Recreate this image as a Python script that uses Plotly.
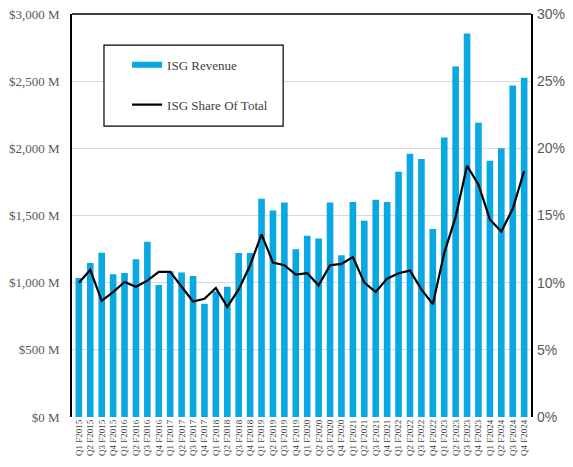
import plotly.graph_objects as go

# -------------------------------
# Data
# -------------------------------
quarters = [
    f"Q{q} F{y}" for y in range(2015, 2025) for q in range(1, 5)
]

isg_revenue = [  # $M
    1035, 1147, 1222, 1062, 1072, 1175, 1305, 983,
    1085, 1075, 1050, 843, 935, 970, 1220, 1220,
    1625, 1537, 1597, 1248, 1350, 1328, 1596, 1205,
    1600, 1460, 1618, 1600, 1826, 1960, 1920, 1400,
    2080, 2610, 2855, 2190, 1908, 2000, 2468, 2525,
]

isg_share = [  # % of total
    10.0, 10.95, 8.65, 9.3, 10.05, 9.7, 10.15, 10.8,
    10.8, 9.7, 8.6, 8.8, 9.6, 8.2, 9.5, 11.3,
    13.6, 11.5, 11.3, 10.6, 10.7, 9.8, 11.3, 11.4,
    11.9, 10.0, 9.3, 10.3, 10.7, 10.9, 9.5, 8.4,
    12.2, 14.9, 18.7, 17.3, 14.7, 13.8, 15.5, 18.3,
]

left_ticks = [0, 500, 1000, 1500, 2000, 2500, 3000]
left_labels = [f"${v:,} M" for v in left_ticks]
right_ticks = [0, 5, 10, 15, 20, 25, 30]
right_labels = [f"{v}%" for v in right_ticks]

BLUE = "#0AA8E2"
SERIF = "Liberation Serif, DejaVu Serif, serif"
SANS = "Liberation Sans, Arial, sans-serif"

fig = go.Figure()
fig.add_trace(go.Bar(
    x=quarters, y=isg_revenue, name="ISG Revenue",
    marker=dict(color=BLUE, line=dict(width=0)),
    showlegend=False,
))
fig.add_trace(go.Scatter(
    x=quarters, y=isg_share, name="ISG Share Of Total", yaxis="y2",
    mode="lines", line=dict(color="black", width=2.2),
    showlegend=False,
))
# legend-only entries (wide swatches like the original)
fig.add_trace(go.Scatter(
    x=[None], y=[None], name="ISG Revenue", mode="lines",
    line=dict(color=BLUE, width=6), legendgroup="a",
))
fig.add_trace(go.Scatter(
    x=[None], y=[None], name="ISG Share Of Total", mode="lines",
    line=dict(color="black", width=2.2), legendgroup="b",
))

fig.update_layout(
    width=573, height=467,
    margin=dict(l=72, r=42, t=14, b=50),
    plot_bgcolor="white", paper_bgcolor="white",
    bargap=0.42,
    showlegend=True,
    legend=dict(
        x=0.12, y=0.911, xanchor="left", yanchor="top",
        borderwidth=0, bgcolor="rgba(0,0,0,0)",
        font=dict(family=SERIF, size=13, color="#404040"),
        traceorder="grouped", tracegroupgap=20,
        itemwidth=30,
    ),
    xaxis=dict(
        tickangle=-90, tickfont=dict(family=SERIF, size=9, color="#404040"),
        showgrid=False, ticks="", range=[-0.6, 39.6], automargin=False,
    ),
    yaxis=dict(
        range=[0, 3000], tickvals=left_ticks, ticktext=left_labels,
        tickfont=dict(family=SERIF, size=13, color="#595959"),
        ticklabelstandoff=8,
        showgrid=True, gridcolor="#D9D9D9", gridwidth=1,
        showline=True, linecolor="black", linewidth=1.5, mirror=True,
        zeroline=False, automargin=False,
    ),
    yaxis2=dict(
        range=[0, 30], tickvals=right_ticks, ticktext=right_labels,
        overlaying="y", side="right", showgrid=False, zeroline=False,
        tickfont=dict(family=SANS, size=14, color="#595959"),
        ticklabelstandoff=5, automargin=False,
    ),
    shapes=[
        dict(type="line", xref="paper", yref="paper", x0=0, x1=1, y0=1, y1=1,
             line=dict(color="black", width=1.5)),
        dict(type="rect", xref="paper", yref="paper",
             x0=0.0697, x1=0.46, y0=0.722, y1=0.923,
             line=dict(color="black", width=1.2), fillcolor="white", layer="above"),
    ],
)

# drop the page's default 8px body margin so the figure sits at the window corner
fig.write_html(
    "out.html",
    config={"displayModeBar": False},
    post_script="document.body.style.margin='0';",
)
